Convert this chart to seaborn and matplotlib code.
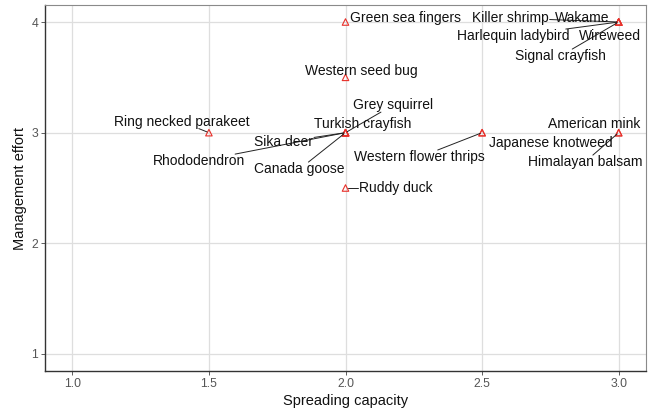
import matplotlib
matplotlib.use("Agg")
import matplotlib.pyplot as plt
import seaborn as sns
import pandas as pd

# ---- data ----
species = ["Green sea fingers", "Killer shrimp", "Wakame", "Harlequin ladybird",
           "Wireweed", "Signal crayfish", "Western seed bug", "Grey squirrel",
           "Turkish crayfish", "Ring necked parakeet", "Sika deer", "Rhododendron",
           "Canada goose", "Ruddy duck", "Western flower thrips", "Japanese knotweed",
           "American mink", "Himalayan balsam"]
spreading = [2.0, 3.0, 3.0, 3.0, 3.0, 3.0, 2.0, 2.0, 2.0, 1.5, 2.0, 2.0, 2.0, 2.0,
             2.5, 2.5, 3.0, 3.0]
management = [4.0, 4.0, 4.0, 4.0, 4.0, 4.0, 3.5, 3.0, 3.0, 3.0, 3.0, 3.0, 3.0, 2.5,
              3.0, 3.0, 3.0, 3.0]
x_ticks = [1.0, 1.5, 2.0, 2.5, 3.0]
x_tick_labels = ["1.0", "1.5", "2.0", "2.5", "3.0"]
y_ticks = [1, 2, 3, 4]
y_tick_labels = ["1", "2", "3", "4"]

# ---- label layout (repelled label centres, data units) ----
label_x = [2.219, 2.603, 2.868, 2.614, 2.967, 2.786, 2.057, 2.174, 2.062, 1.399,
           1.773, 1.464, 1.832, 2.185, 2.272, 2.750, 2.912, 2.876]
label_y = [4.035, 4.035, 4.035, 3.873, 3.873, 3.692, 3.556, 3.249, 3.078, 3.10,
           2.915, 2.743, 2.671, 2.50, 2.78, 2.906, 3.078, 2.734]
has_segment = [False, True, False, True, False, True, False, True, False, True,
               True, True, True, True, True, False, False, True]

df = pd.DataFrame({"species": species, "spreading": spreading, "management": management})

sns.set_theme(style="white")
plt.rcParams["font.family"] = ["Liberation Sans", "DejaVu Sans"]

fig = plt.figure(figsize=(6.51, 4.09), dpi=100)
ax = fig.add_axes([45 / 651, 1 - 370.6 / 409, (646 - 45) / 651, (370.6 - 5.4) / 409])

ax.grid(True, color="#DEDEDE", linewidth=0.9)
ax.set_axisbelow(True)

sns.scatterplot(data=df, x="spreading", y="management", marker="^", s=22,
                facecolors="none", edgecolor="#E8302A", linewidth=0.8, ax=ax,
                zorder=3)

ax.set_xlim(0.9, 3.1)
ax.set_ylim(0.85, 4.15)

texts = []
for name, lx, ly in zip(species, label_x, label_y):
    t = ax.text(lx, ly, name, ha="center", va="center", fontsize=10,
                color="#111111", zorder=4)
    texts.append(t)

fig.canvas.draw()
renderer = fig.canvas.get_renderer()
inv = ax.transData.inverted()
for t, px, py, seg in zip(texts, spreading, management, has_segment):
    if not seg:
        continue
    bb = t.get_window_extent(renderer)
    cx, cy = (bb.x0 + bb.x1) / 2, (bb.y0 + bb.y1) / 2
    hw, hh = bb.width / 2 + 1, bb.height * 0.5
    ptx, pty = ax.transData.transform((px, py))
    dx, dy = ptx - cx, pty - cy
    if abs(dx) <= hw and abs(dy) <= hh:
        continue
    # intersection of centre->point line with the label box
    sx = hw / abs(dx) if dx != 0 else float("inf")
    sy = hh / abs(dy) if dy != 0 else float("inf")
    s = min(sx, sy)
    start = (cx + dx * s, cy + dy * s)
    # stop just short of the point marker
    length = ((ptx - start[0]) ** 2 + (pty - start[1]) ** 2) ** 0.5
    shrink = min(2.0, length) / length if length > 0 else 0
    end = (ptx - (ptx - start[0]) * shrink, pty - (pty - start[1]) * shrink)
    (x0, y0), (x1, y1) = inv.transform(start), inv.transform(end)
    ax.plot([x0, x1], [y0, y1], color="#222222", lw=0.7, zorder=3.5)

ax.set_xticks(x_ticks)
ax.set_xticklabels(x_tick_labels)
ax.set_yticks(y_ticks)
ax.set_yticklabels(y_tick_labels)
ax.tick_params(axis="both", which="major", direction="out", length=3, width=0.6,
               color="#444444", labelsize=8.8, labelcolor="#555555", pad=2,
               bottom=True, left=True)

ax.set_xlabel("Spreading capacity", fontsize=10.5, color="#111111", labelpad=3)
ax.set_ylabel("Management effort", fontsize=10.5, color="#111111", labelpad=3)

for side in ["left", "bottom"]:
    ax.spines[side].set_color("#333333")
    ax.spines[side].set_linewidth(1.0)
for side in ["top", "right"]:
    ax.spines[side].set_color("#8A8A8A")
    ax.spines[side].set_linewidth(0.8)

fig.savefig("out.png", dpi=100)
